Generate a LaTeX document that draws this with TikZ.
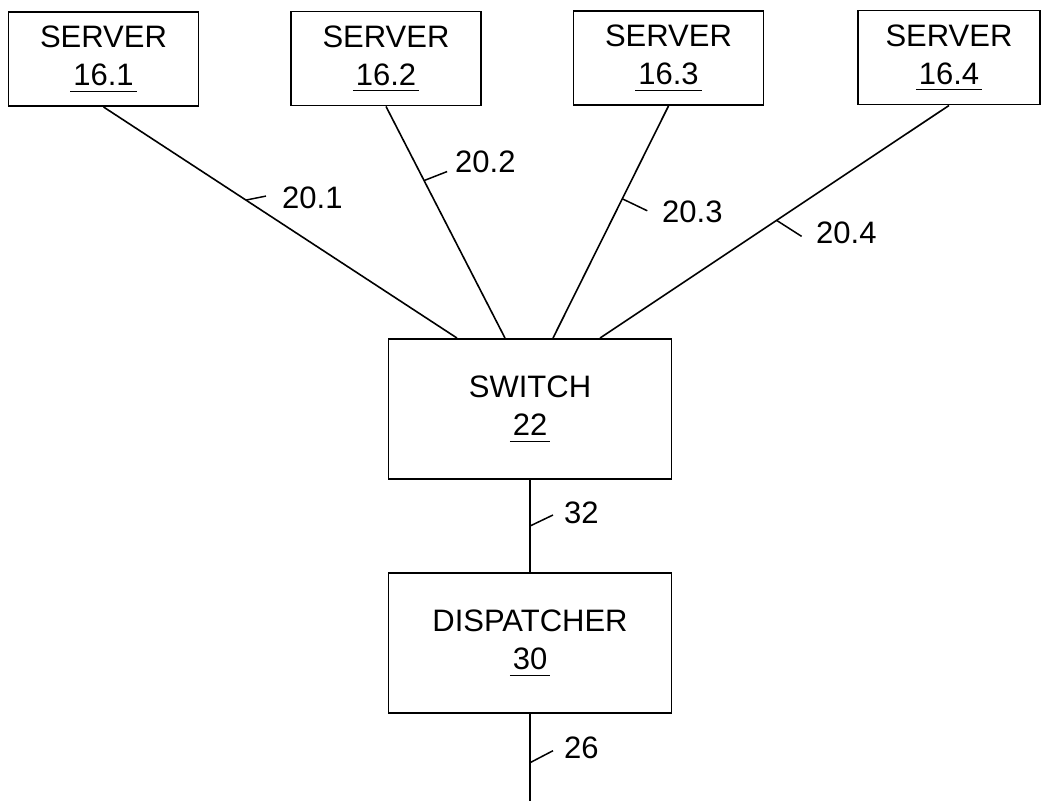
\documentclass[tikz,border=0pt]{standalone}
\usepackage{fontspec}
\setmainfont{Liberation Sans}
\newcommand\ulnum[1]{\setbox0=\hbox{#1}\hbox{\kern-3pt\rule[-6pt]{\dimexpr\wd0+6pt\relax}{1.3pt}\kern-\dimexpr\wd0+3pt\relax\box0}}
\tikzset{
  box/.style={draw, line width=1.9pt, align=center, inner sep=0pt,
    font=\fontsize{31}{38}\selectfont},
  srv/.style={box, minimum width=190pt, minimum height=94pt},
  big/.style={box, minimum width=283pt, minimum height=140pt},
  conn/.style={line width=1.6pt},
  tick/.style={line width=1.5pt},
  lbl/.style={anchor=base west, inner sep=0pt, font=\fontsize{31}{38}\selectfont}
}
\begin{document}
\begin{tikzpicture}[x=1pt,y=-1pt]
\useasboundingbox (0,0) rectangle (1041,801);
\node[srv] (s1) at (103.5,59) {SERVER\\\ulnum{16.1}};
\node[srv] (s2) at (386,58.5) {SERVER\\\ulnum{16.2}};
\node[srv] (s3) at (668.5,58) {SERVER\\\ulnum{16.3}};
\node[srv, minimum width=182pt] (s4) at (949,57.5) {SERVER\\\ulnum{16.4}};
\node[big] (sw) at (530,409) {SWITCH\\\ulnum{22}};
\node[big] (dp) at (530,643) {DISPATCHER\\\ulnum{30}};
\coordinate (sw1) at ([xshift=-73pt]sw.north);
\coordinate (sw2) at ([xshift=-25pt]sw.north);
\coordinate (sw3) at ([xshift=23pt]sw.north);
\coordinate (sw4) at ([xshift=70pt]sw.north);
\coordinate (bot) at (530,801);
\draw[conn] (s1.south) -- coordinate[pos=0.403] (t1) (sw1);
\draw[conn] (s2.south) -- coordinate[pos=0.32] (t2) (sw2);
\draw[conn] (s3.south) -- coordinate[pos=0.40] (t3) (sw3);
\draw[conn] (s4.south) -- coordinate[pos=0.494] (t4) (sw4);
\draw[conn] (sw.south) -- coordinate[pos=0.5] (t5) (dp.north);
\draw[conn] (dp.south) -- coordinate[pos=0.56] (t6) (bot);
\draw[tick] (t1) -- ++(20,-4);
\draw[tick] (t2) -- ++(23,-9);
\draw[tick] (t3) -- ++(25,12);
\draw[tick] (t4) -- ++(25,16);
\draw[tick] (t5) -- ++(23,-11);
\draw[tick] (t6) -- ++(23,-12);
\node[lbl] (l1) at (282,208) {20.1};
\node[lbl] (l2) at (455,172) {20.2};
\node[lbl] (l3) at (662,222) {20.3};
\node[lbl] (l4) at (816,243) {20.4};
\node[lbl] (l5) at (564,523) {32};
\node[lbl] (l6) at (564,758) {26};
\end{tikzpicture}
\end{document}
